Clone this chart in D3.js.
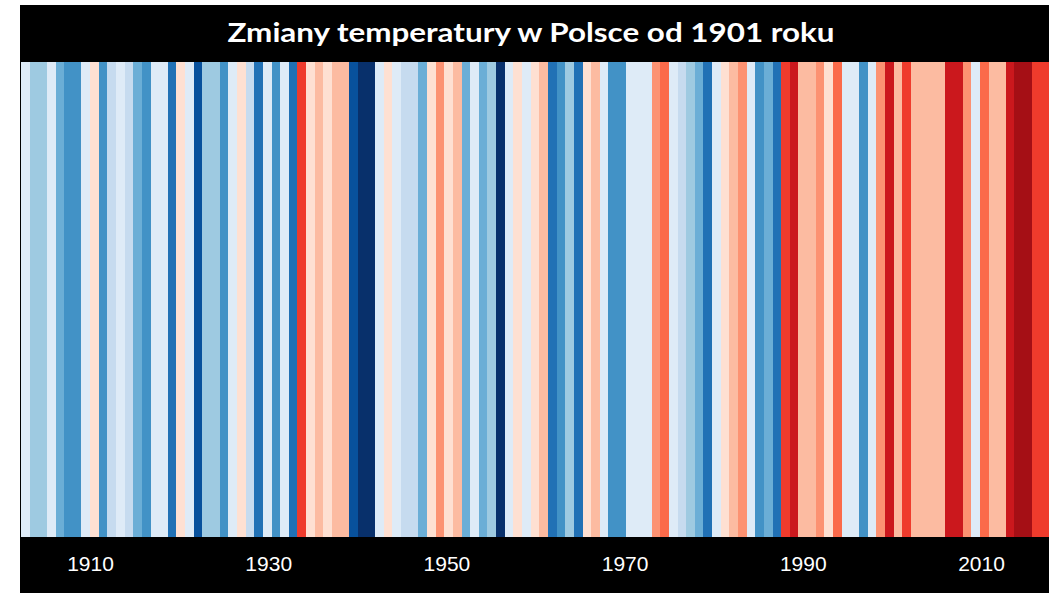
<!DOCTYPE html>
<html>
<head>
<meta charset="utf-8">
<script src="https://cdn.jsdelivr.net/npm/d3@7"></script>
<style>
  html, body { margin: 0; padding: 0; background: #ffffff; }
  svg { display: block; }
</style>
</head>
<body>
<svg id="chart" width="1049" height="593"></svg>
<script>
// ---- data ----
const title = "Zmiany temperatury w Polsce od 1901 roku";
const firstYear = 1901;
const lastYear = 2019;
const years = d3.range(firstYear, lastYear + 1);
// temperature anomaly (°C, relative to reference mean), one value per year 1901–2019
const anomalies = [
  -0.1, -0.6, -0.6, -0.1, -0.9, -1.1, -1.1, -0.1, 0.1, -1.1,   // 1901–1910
  -0.4, -0.1, -0.4, -0.9, -1.1, -0.1, -0.1, -1.4, 0.1, -0.1,   // 1911–1920
  -1.6, -0.6, -0.6, -1.1, -0.1, 0.1, -0.4, -1.4, -0.1, -1.1,   // 1921–1930
  -0.1, -1.4, 1.1, 0.1, 0.4, 0.1, 0.4, 0.4, -1.6, -1.9,        // 1931–1940
  -1.9, -0.1, 0.1, -0.1, -0.4, -0.4, -0.9, 0.1, 0.6, 0.1,      // 1941–1950
  0.4, -0.9, -0.1, -0.9, -0.6, -1.9, -0.1, 0.1, -0.1, 0.1,     // 1951–1960
  0.4, -1.4, -1.1, -0.6, -1.4, 0.1, 0.4, -0.1, -1.1, -1.1,     // 1961–1970
  -0.1, -0.1, -0.1, 0.6, 0.9, -0.1, -0.4, -0.6, -0.9, -1.4,    // 1971–1980
  -0.1, 0.1, 0.4, 0.6, -0.1, -1.1, -0.9, -1.4, 1.1, 1.4,       // 1981–1990
  0.4, 0.4, 0.6, 0.1, 0.9, -0.1, -0.1, -1.1, -0.1, 0.6,        // 1991–2000
  1.4, 0.4, 1.1, 0.4, 0.4, 0.4, 0.4, 1.4, 1.4, 0.6,            // 2001–2010
  -0.1, 0.9, 0.4, 0.4, 1.4, 1.6, 1.6, 1.1, 1.1                 // 2011–2019
];
const tickYears = [1910, 1930, 1950, 1970, 1990, 2010];
const stripeColors = [
  "#08306b", "#08519c", "#2171b5", "#4292c6", "#6baed6", "#9ecae1", "#c6dbef", "#deebf7",
  "#fee0d2", "#fcbba1", "#fc9272", "#fb6a4a", "#ef3b2c", "#cb181d", "#a50f15", "#67000d"
];

// ---- layout ----
const W = 1049, H = 593;
const frame = { x0: 20, y0: 5, x1: 1049, y1: 593 };
const stripeArea = { x0: 21, x1: 1049, y0: 62, y1: 537 };

const svg = d3.select("#chart");

svg.append("rect")
  .attr("x", frame.x0).attr("y", frame.y0)
  .attr("width", frame.x1 - frame.x0).attr("height", frame.y1 - frame.y0)
  .attr("fill", "#000000");

const x = d3.scaleBand()
  .domain(years)
  .range([stripeArea.x0, stripeArea.x1])
  .paddingInner(0).paddingOuter(0);

const color = d3.scaleQuantize()
  .domain([-2, 2])
  .range(stripeColors);

const data = years.map((y, i) => ({ year: y, value: anomalies[i] }));

svg.append("g")
  .selectAll("rect")
  .data(data)
  .join("rect")
  .attr("x", d => x(d.year))
  .attr("y", stripeArea.y0)
  .attr("width", x.bandwidth() + 0.6)
  .attr("height", stripeArea.y1 - stripeArea.y0)
  .attr("fill", d => color(d.value))
  .attr("shape-rendering", "crispEdges");

// title
svg.append("text")
  .attr("x", 531)
  .attr("y", 42)
  .attr("text-anchor", "middle")
  .attr("fill", "#ffffff")
  .attr("font-family", "Lato, 'Open Sans', sans-serif")
  .attr("font-weight", 700)
  .attr("font-size", 27)
  .attr("textLength", 607)
  .attr("lengthAdjust", "spacingAndGlyphs")
  .text(title);

// year labels (label axis as placed in the picture)
const xLabel = d3.scaleLinear().domain([1910, 2010]).range([90, 981]);
const axis = d3.axisBottom(xLabel)
  .tickValues(tickYears)
  .tickFormat(d3.format("d"))
  .tickSize(0)
  .tickPadding(0);

const gAxis = svg.append("g")
  .attr("transform", `translate(0, 554)`)
  .call(axis);
gAxis.select(".domain").remove();
gAxis.selectAll("text")
  .attr("fill", "#ffffff")
  .attr("font-family", "'Liberation Sans', Arial, sans-serif")
  .attr("font-size", 21)
  .attr("dy", "0.8em");
</script>
</body>
</html>
